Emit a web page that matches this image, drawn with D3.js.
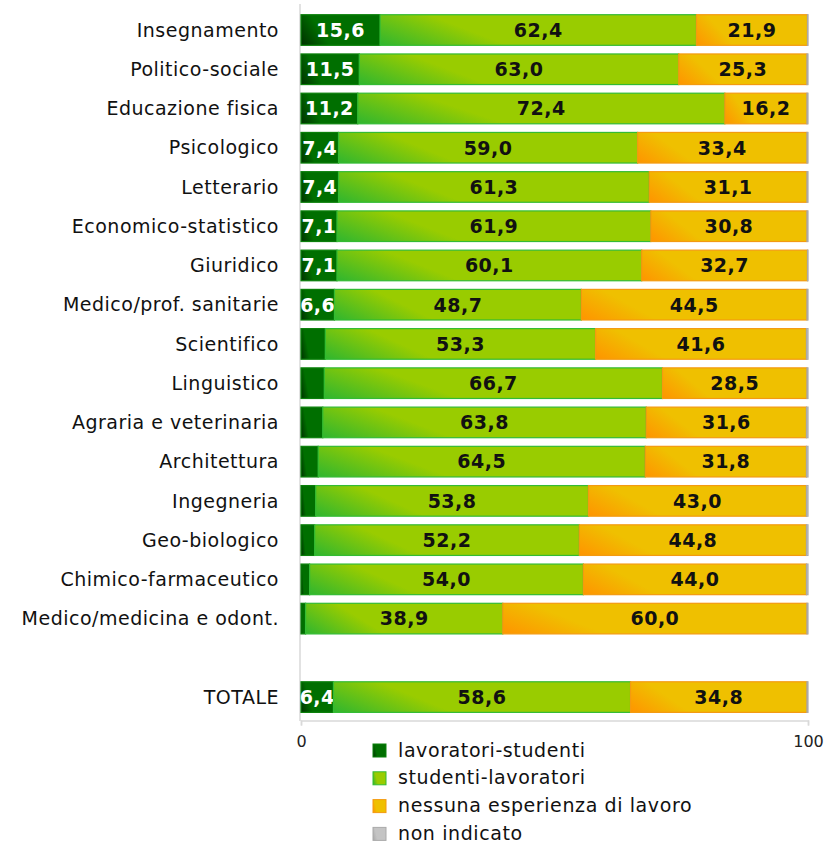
<!DOCTYPE html>
<html>
<head>
<meta charset="utf-8">
<script src="https://cdn.jsdelivr.net/npm/d3@7"></script>
<style>
  body { margin: 0; background: #fff; }
  text { font-family: "DejaVu Sans", sans-serif; }
</style>
</head>
<body>
<svg id="chart" width="824" height="844"></svg>
<script>
// categorie (riga vuota prima del totale)
const categories = [
    "Insegnamento", "Politico-sociale", "Educazione fisica", "Psicologico",
    "Letterario", "Economico-statistico", "Giuridico", "Medico/prof. sanitarie",
    "Scientifico", "Linguistico", "Agraria e veterinaria", "Architettura",
    "Ingegneria", "Geo-biologico", "Chimico-farmaceutico",
    "Medico/medicina e odont.", "", "TOTALE"
];
const lavoratoriStudenti = [15.6, 11.5, 11.2, 7.4, 7.4, 7.1, 7.1, 6.6, 4.8, 4.6, 4.3, 3.4, 2.9, 2.7, 1.7, 0.9, null, 6.4];
const studentiLavoratori = [62.4, 63.0, 72.4, 59.0, 61.3, 61.9, 60.1, 48.7, 53.3, 66.7, 63.8, 64.5, 53.8, 52.2, 54.0, 38.9, null, 58.6];
const nessunaEsperienza  = [21.9, 25.3, 16.2, 33.4, 31.1, 30.8, 32.7, 44.5, 41.6, 28.5, 31.6, 31.8, 43.0, 44.8, 44.0, 60.0, null, 34.8];
const nonIndicato        = [0.1, 0.2, 0.2, 0.2, 0.2, 0.2, 0.1, 0.2, 0.3, 0.2, 0.3, 0.3, 0.3, 0.3, 0.3, 0.2, null, 0.2];
const seriesNames = ["lavoratori-studenti", "studenti-lavoratori", "nessuna esperienza di lavoro", "non indicato"];
const xTicks = [0, 100];

const svg = d3.select('#chart');
const defs = svg.append('defs');

const ml = 301, mr = 808;
const x = d3.scaleLinear().domain([0, 100]).range([ml, mr]);
const y = d3.scaleBand()
            .domain(d3.range(categories.length))
            .range([10.4, 716.7])
            .paddingInner(0.22)
            .paddingOuter(0.11);

// gradienti: colore pieno in basso a sinistra, che sfuma verso destra/alto
const grads = [
    { id: 'g0', c0: '#003000', c1: '#006f00', stroke: '#0a800a', text: '#fff', off: 0.35 },
    { id: 'g1', c0: '#2fb62f', c1: '#99cc00', stroke: '#33bb33', text: '#111', off: 0.38 },
    { id: 'g2', c0: '#ff9400', c1: '#efc000', stroke: '#f39a10', text: '#111', off: 0.32 },
    { id: 'g3', c0: '#a8a8a8', c1: '#c4c4c4', stroke: '#aaaaaa', text: '#111', off: 0.35 }
];
grads.forEach(function(g) {
    const lg = defs.append('linearGradient')
                   .attr('id', g.id)
                   .attr('x1', 0).attr('y1', 1)
                   .attr('x2', 1).attr('y2', 0.75);
    lg.append('stop').attr('offset', 0).attr('stop-color', g.c0);
    lg.append('stop').attr('offset', g.off).attr('stop-color', g.c1);
    lg.append('stop').attr('offset', 1).attr('stop-color', g.c1);
});

// assi
svg.append('line')
   .attr('x1', ml - 1).attr('x2', ml - 1)
   .attr('y1', 4).attr('y2', 721)
   .attr('stroke', '#d9d9d9').attr('stroke-width', 1.5);

const xAxis = svg.append('g')
                 .attr('transform', 'translate(0,720.5)')
                 .call(d3.axisBottom(x).tickValues(xTicks).tickSize(5).tickPadding(10));
xAxis.select('.domain').attr('stroke', '#d9d9d9').attr('stroke-width', 1.5);
xAxis.selectAll('.tick line').attr('stroke', '#d9d9d9').attr('stroke-width', 1.5);
xAxis.selectAll('.tick text')
     .attr('font-family', '"DejaVu Sans", sans-serif')
     .attr('font-size', 16).attr('fill', '#222');

// etichette categorie
svg.append('g').selectAll('text')
   .data(categories)
   .join('text')
   .attr('x', 279)
   .attr('y', (d, i) => y(i) + y.bandwidth() / 2)
   .attr('dy', '0.35em')
   .attr('text-anchor', 'end')
   .attr('font-size', 19)
   .attr('letter-spacing', 0.5)
   .attr('fill', '#111')
   .text(d => d);

// barre impilate
const rows = categories.map(function(c, i) {
    return [lavoratoriStudenti[i], studentiLavoratori[i], nessunaEsperienza[i], nonIndicato[i]];
});
const fmt = v => v.toFixed(1).replace('.', ',');

rows.forEach(function(vals, i) {
    if (vals[0] == null) return;
    let acc = 0;
    const g = svg.append('g');
    vals.forEach(function(v, s) {
        const x0 = x(acc), x1 = x(acc + v);
        acc += v;
        g.append('rect')
         .attr('x', x0).attr('y', y(i))
         .attr('width', Math.max(0, x1 - x0))
         .attr('height', y.bandwidth())
         .attr('fill', 'url(#' + grads[s].id + ')')
         .attr('stroke', grads[s].stroke)
         .attr('stroke-width', 1.2);
        const showLabel = (s == 0 && v >= 6) || s == 1 || s == 2;
        if (showLabel) {
            g.append('text')
             .attr('x', (x0 + x1) / 2)
             .attr('y', y(i) + y.bandwidth() / 2)
             .attr('dy', '0.36em')
             .attr('text-anchor', 'middle')
             .attr('font-size', 19)
             .attr('font-weight', 'bold')
             .attr('letter-spacing', 0.5)
             .attr('fill', grads[s].text)
             .text(fmt(v));
        }
    });
});

// legenda
const legend = svg.append('g').attr('transform', 'translate(373,750)');
seriesNames.forEach(function(name, k) {
    const row = legend.append('g').attr('transform', 'translate(0,' + (k * 27.8) + ')');
    row.append('rect')
       .attr('x', 0).attr('y', -6)
       .attr('width', 13).attr('height', 13)
       .attr('fill', 'url(#' + grads[k].id + ')')
       .attr('stroke', grads[k].stroke);
    row.append('text')
       .attr('x', 25).attr('y', 0)
       .attr('dy', '0.35em')
       .attr('font-size', 19)
       .attr('letter-spacing', 0.6)
       .attr('fill', '#111')
       .text(name);
});
</script>
</body>
</html>
